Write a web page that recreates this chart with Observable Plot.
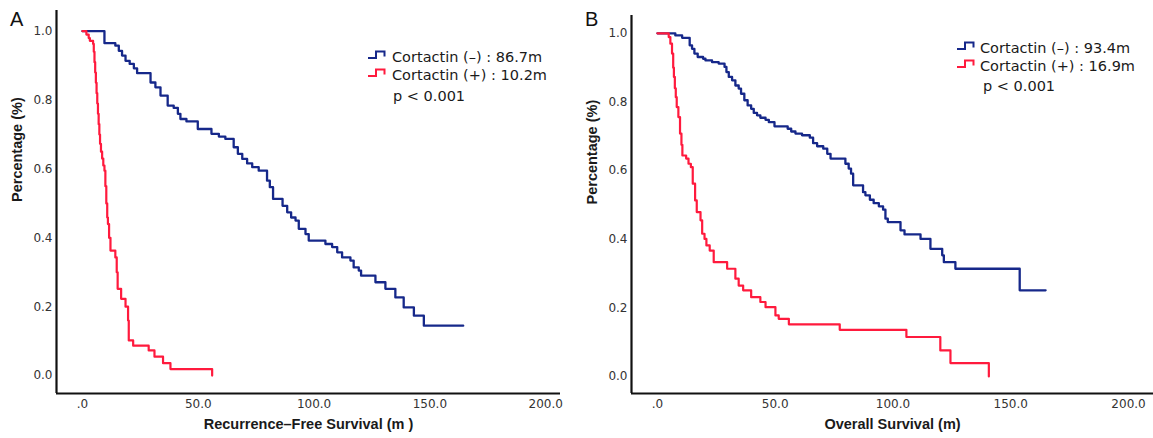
<!DOCTYPE html>
<html>
<head>
<meta charset="utf-8">
<script src="https://cdn.jsdelivr.net/npm/d3@7"></script>
<script src="https://cdn.jsdelivr.net/npm/@observablehq/plot@0.6"></script>
<style>
  html, body { margin: 0; padding: 0; background: #fff; }
  #wrap { position: relative; width: 1153px; height: 438px; overflow: hidden; background: #fff; }
  .panel { position: absolute; top: 0; }
  .letter { position: absolute; font-family: "Liberation Sans", Arial, sans-serif; font-size: 20px; color: #111; line-height: 20px; }
  .leg { position: absolute; font-family: "DejaVu Sans", sans-serif; font-size: 14.5px; color: #1a1a1a; line-height: 18px; white-space: nowrap; }
  .icon { position: absolute; }
</style>
</head>
<body>
<div id="wrap"></div>
<script>
// ---------- data ----------
const xTicks = [0, 50, 100, 150, 200];
const xTickLabels = [".0", "50.0", "100.0", "150.0", "200.0"];
const yTicks = [0, 0.2, 0.4, 0.6, 0.8, 1.0];

const panelLetters = ["A", "B"];
const xTitles = ["Recurrence\u2013Free Survival (m )", "Overall Survival (m)"];
const yTitle = "Percentage (%)";
const legendNeg = ["Cortactin (\u2013) : 86.7m", "Cortactin (\u2013) : 93.4m"];
const legendPos = ["Cortactin (+) : 10.2m", "Cortactin (+) : 16.9m"];
const pText = "p < 0.001";

// Panel A: recurrence-free survival, Cortactin (-)
const rfsNegTime = [0, 9.5, 14.2, 15.7, 17.1, 18.6, 20.4, 22.2, 23.6, 29.4, 31.5, 33.7, 36.8, 39.4, 41.2, 42.3, 44.9, 49.8, 55.7, 58.9, 61.7, 65.3, 67.1, 69.0, 71.1, 73.3, 76.1, 79.7, 80.9, 82.3, 86.4, 88.4, 90.1, 92.0, 93.4, 96.3, 97.7, 104.9, 107.8, 110.0, 112.1, 115.7, 117.1, 119.3, 120.3, 126.5, 130.8, 135.1, 138.7, 143.1, 147.4, 164.4];
const rfsNegSurv = [1.0, 0.965, 0.958, 0.943, 0.929, 0.914, 0.905, 0.892, 0.878, 0.851, 0.837, 0.813, 0.784, 0.777, 0.760, 0.745, 0.738, 0.716, 0.702, 0.694, 0.687, 0.663, 0.644, 0.629, 0.616, 0.605, 0.595, 0.566, 0.547, 0.513, 0.493, 0.474, 0.459, 0.450, 0.426, 0.411, 0.392, 0.382, 0.373, 0.358, 0.343, 0.334, 0.314, 0.305, 0.290, 0.271, 0.252, 0.227, 0.198, 0.174, 0.145, 0.145];
// Panel A: recurrence-free survival, Cortactin (+)
const rfsPosTime = [0, 1.7, 2.7, 3.2, 4.6, 4.9, 5.2, 5.5, 5.8, 6.1, 6.4, 6.7, 7.0, 7.3, 7.6, 8.0, 8.5, 9.0, 9.5, 9.9, 10.3, 10.7, 11.0, 11.5, 12.1, 14.2, 14.8, 15.2, 16.7, 18.6, 19.7, 20.0, 21.9, 28.6, 31.1, 34.8, 38.0, 56.0];
const rfsPosSurv = [1.0, 0.99, 0.98, 0.972, 0.963, 0.94, 0.91, 0.88, 0.85, 0.82, 0.79, 0.76, 0.73, 0.70, 0.673, 0.65, 0.63, 0.61, 0.595, 0.55, 0.50, 0.459, 0.44, 0.40, 0.363, 0.343, 0.30, 0.252, 0.223, 0.200, 0.160, 0.102, 0.087, 0.073, 0.055, 0.036, 0.019, 0.0];
// Panel B: overall survival, Cortactin (-)
const osNegTime = [0, 7.6, 10.5, 13.7, 14.7, 15.7, 17.1, 19.4, 20.4, 23.2, 26.0, 28.5, 29.3, 30.3, 31.7, 33.1, 34.5, 35.5, 36.9, 38.3, 39.8, 40.9, 42.3, 43.7, 45.9, 47.3, 49.7, 55.3, 56.8, 58.6, 61.4, 64.7, 66.1, 67.8, 70.4, 72.1, 73.5, 79.8, 81.2, 82.2, 83.1, 87.3, 88.3, 90.2, 91.8, 94.0, 95.8, 96.8, 97.8, 103.2, 104.9, 111.7, 115.9, 120.9, 121.6, 126.5, 153.8, 164.8];
const osNegSurv = [1.0, 0.994, 0.987, 0.965, 0.955, 0.941, 0.931, 0.926, 0.921, 0.916, 0.912, 0.902, 0.887, 0.873, 0.863, 0.848, 0.839, 0.824, 0.805, 0.790, 0.780, 0.768, 0.761, 0.754, 0.748, 0.741, 0.729, 0.722, 0.714, 0.708, 0.703, 0.696, 0.680, 0.671, 0.664, 0.649, 0.635, 0.620, 0.606, 0.591, 0.557, 0.537, 0.528, 0.515, 0.505, 0.496, 0.486, 0.460, 0.450, 0.426, 0.414, 0.401, 0.372, 0.353, 0.333, 0.314, 0.251, 0.251];
// Panel B: overall survival, Cortactin (+)
const osPosTime = [0, 4.8, 5.5, 6.2, 6.7, 7.0, 7.4, 7.8, 8.2, 8.9, 9.6, 10.2, 10.6, 12.2, 13.2, 14.2, 15.0, 16.0, 16.7, 18.3, 19.0, 20.0, 20.8, 22.2, 23.9, 29.6, 33.1, 34.5, 36.4, 39.8, 43.7, 45.9, 50.1, 51.5, 55.8, 77.4, 105.7, 120.1, 124.4, 140.7];
const osPosSurv = [1.0, 0.989, 0.970, 0.941, 0.90, 0.873, 0.84, 0.814, 0.785, 0.756, 0.708, 0.675, 0.644, 0.635, 0.620, 0.610, 0.562, 0.513, 0.479, 0.455, 0.416, 0.401, 0.382, 0.367, 0.333, 0.314, 0.285, 0.265, 0.251, 0.231, 0.217, 0.202, 0.178, 0.168, 0.152, 0.136, 0.115, 0.076, 0.039, 0.0];

// ---------- build ----------
const BLUE = "#16288a";
const RED = "#ff1a3d";
const rows = (T, S) => T.map((t, i) => ({t, s: S[i]}));

function panel(cfg) {
  return Plot.plot({
    width: cfg.width, height: 438,
    marginLeft: cfg.ml, marginRight: cfg.mr, marginTop: cfg.mt, marginBottom: 45,
    style: {fontFamily: "DejaVu Sans, sans-serif", fontSize: "12px", color: "#333", background: "transparent", overflow: "visible"},
    x: {domain: cfg.xd, ticks: xTicks, tickFormat: d => xTickLabels[xTicks.indexOf(d)], tickSize: 0, tickPadding: 6, label: null},
    y: {domain: cfg.yd, ticks: yTicks, tickFormat: d3.format(".1f"), tickSize: 0, tickPadding: 4, label: null},
    marks: [
      Plot.ruleX([cfg.xd[0]], {stroke: "#111", strokeWidth: 2.2}),
      Plot.ruleY([cfg.yd[0]], {stroke: "#111", strokeWidth: 2.2}),
      Plot.line(cfg.neg, {x: "t", y: "s", curve: "step-after", stroke: BLUE, strokeWidth: 2.3}),
      Plot.line(cfg.pos, {x: "t", y: "s", curve: "step-after", stroke: RED, strokeWidth: 2.2}),
      Plot.text([cfg.xTitle], {text: d => d, frameAnchor: "bottom", dy: 35, fontWeight: "bold", fontSize: 14.5, fontFamily: "Liberation Sans, Arial, sans-serif", fill: "#1a1a1a"}),
      Plot.text([yTitle], {text: d => d, frameAnchor: "left", dx: -39, rotate: -90, fontWeight: "bold", fontSize: 14.5, fontFamily: "Liberation Sans, Arial, sans-serif", fill: "#1a1a1a"})
    ]
  });
}

const wrap = document.getElementById("wrap");

const left = panel({width: 576, ml: 56, mr: 16, mt: 10, xd: [-11.2, 206.4], yd: [-0.052, 1.06],
  neg: rows(rfsNegTime, rfsNegSurv), pos: rows(rfsPosTime, rfsPosSurv), xTitle: xTitles[0]});
const right = panel({width: 577, ml: 55, mr: 0, mt: 15, xd: [-11.0, 210.6], yd: [-0.0496, 1.052],
  neg: rows(osNegTime, osNegSurv), pos: rows(osPosTime, osPosSurv), xTitle: xTitles[1]});

const pl = document.createElement("div"); pl.className = "panel"; pl.style.left = "0px"; pl.appendChild(left); wrap.appendChild(pl);
const pr = document.createElement("div"); pr.className = "panel"; pr.style.left = "576px"; pr.appendChild(right); wrap.appendChild(pr);

function addText(cls, txt, x, y) {
  const d = document.createElement("div");
  d.className = cls; d.textContent = txt;
  d.style.left = x + "px"; d.style.top = y + "px";
  wrap.appendChild(d);
}
function addIcon(color, x, y) {
  const ns = "http://www.w3.org/2000/svg";
  const s = document.createElementNS(ns, "svg");
  s.setAttribute("class", "icon");
  s.setAttribute("width", 18); s.setAttribute("height", 10);
  s.style.left = x + "px"; s.style.top = y + "px";
  const p = document.createElementNS(ns, "path");
  p.setAttribute("d", "M0,8 H8 V1.5 H16.5 V6.5");
  p.setAttribute("fill", "none"); p.setAttribute("stroke", color); p.setAttribute("stroke-width", 2);
  s.appendChild(p);
  wrap.appendChild(s);
}

// panel letters
addText("letter", panelLetters[0], 10, 9);
addText("letter", panelLetters[1], 585, 9);

// legends
const legs = [
  {ix: 368, tx: 392, px: 393, r1: 57, r2: 75, r3: 96},
  {ix: 957, tx: 980, px: 983, r1: 48, r2: 66, r3: 86}
];
legs.forEach((L, i) => {
  addIcon(BLUE, L.ix, L.r1 - 7);
  addIcon(RED, L.ix, L.r2 - 7);
  addText("leg", legendNeg[i], L.tx, L.r1 - 9);
  addText("leg", legendPos[i], L.tx, L.r2 - 9);
  addText("leg", pText, L.px, L.r3 - 9);
});
</script>
</body>
</html>
